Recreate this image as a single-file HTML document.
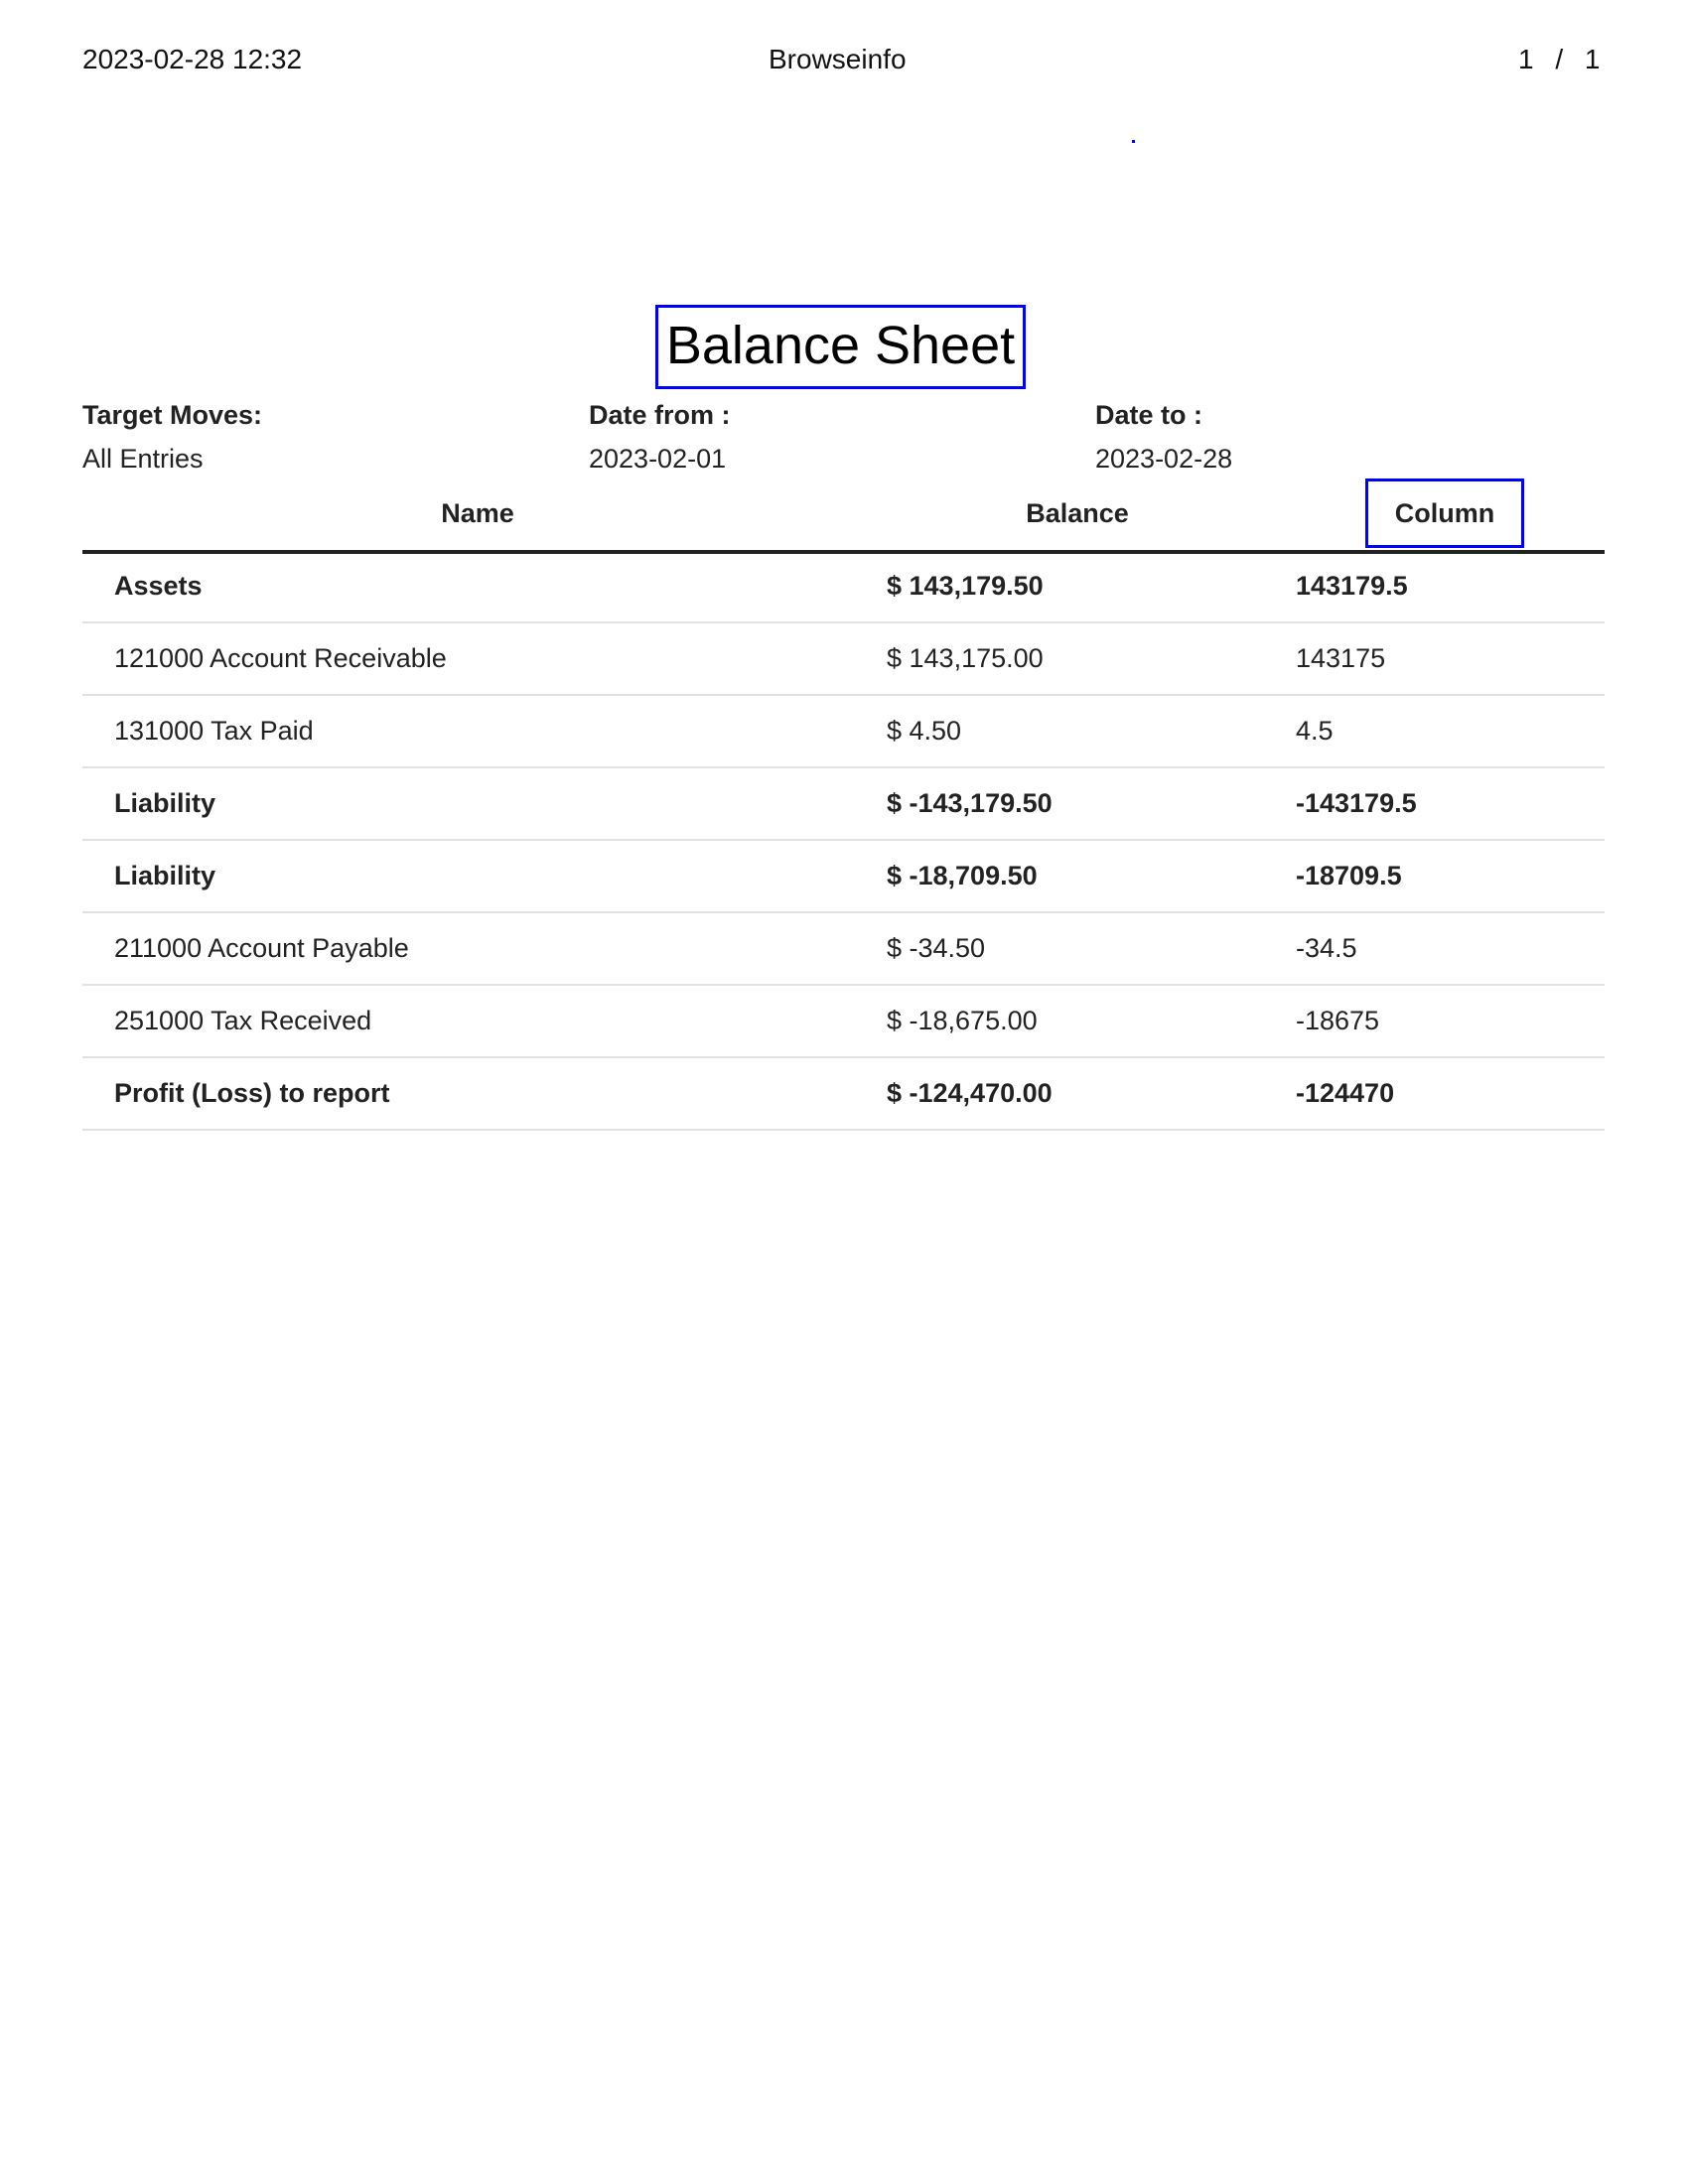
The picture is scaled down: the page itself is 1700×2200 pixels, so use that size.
<!DOCTYPE html>
<html><head><meta charset="utf-8"><style>
body{margin:0;width:1700px;height:2200px;background:#fff;font-family:"Liberation Sans",sans-serif;color:#222;position:relative;overflow:hidden}
.a{position:absolute;white-space:nowrap;line-height:1}
.b{font-weight:bold}
.hr{position:absolute;left:83px;width:1533px;height:2px;background:#dee2e6}
</style></head><body>
<div class="a" style="left:83px;top:46px;font-size:28px;color:#111">2023-02-28 12:32</div>
<div class="a" style="left:774px;top:46px;font-size:28px;color:#111">Browseinfo</div>
<div class="a" style="left:1529px;top:46px;font-size:28px;color:#111;word-spacing:14px">1 / 1</div>
<div class="a" style="left:1140px;top:141px;width:3px;height:3px;background:#00f"></div>
<div class="a" style="left:660px;top:307px;width:367px;height:79px;border:3px solid #00f"></div>
<div class="a" style="left:660px;top:321px;width:373px;text-align:center;font-size:54px;color:#000">Balance Sheet</div>
<div class="a b" style="left:83px;top:405px;font-size:27px">Target Moves:</div>
<div class="a" style="left:83px;top:449px;font-size:27px">All Entries</div>
<div class="a b" style="left:593px;top:405px;font-size:27px">Date from :</div>
<div class="a" style="left:593px;top:449px;font-size:27px">2023-02-01</div>
<div class="a b" style="left:1103px;top:405px;font-size:27px">Date to :</div>
<div class="a" style="left:1103px;top:449px;font-size:27px">2023-02-28</div>
<div class="a b" style="left:381px;width:200px;text-align:center;top:504px;font-size:27px">Name</div>
<div class="a b" style="left:985px;width:200px;text-align:center;top:504px;font-size:27px">Balance</div>
<div class="a" style="left:1375px;top:482px;width:154px;height:64px;border:3px solid #00f"></div>
<div class="a b" style="left:1375px;width:160px;text-align:center;top:504px;font-size:27px">Column</div>
<div class="a" style="left:83px;top:554px;width:1533px;height:4px;background:#222"></div>
<div id="rows"></div>
<script>
const names=["Assets","121000 Account Receivable","131000 Tax Paid","Liability","Liability","211000 Account Payable","251000 Tax Received","Profit (Loss) to report"];
const balances=["$ 143,179.50","$ 143,175.00","$ 4.50","$ -143,179.50","$ -18,709.50","$ -34.50","$ -18,675.00","$ -124,470.00"];
const columns=["143179.5","143175","4.5","-143179.5","-18709.5","-34.5","-18675","-124470"];
const bold=[1,0,0,1,1,0,0,1];
const host=document.getElementById('rows');
names.forEach((n,i)=>{
  const top=577+i*73;
  const vals=[[n,115],[balances[i],893],[columns[i],1305]];
  vals.forEach((v,j)=>{
    const d=document.createElement('div');
    d.className='a'+(bold[i]?' b':'');
    d.style.cssText='left:'+v[1]+'px;top:'+top+'px;font-size:27px';
    d.textContent=v[0];
    
    
    host.appendChild(d);
  });
  const l=document.createElement('div');
  l.className='hr';
  l.style.top=(626+i*73)+'px';
  
  
  host.appendChild(l);
});
</script>
</body></html>
